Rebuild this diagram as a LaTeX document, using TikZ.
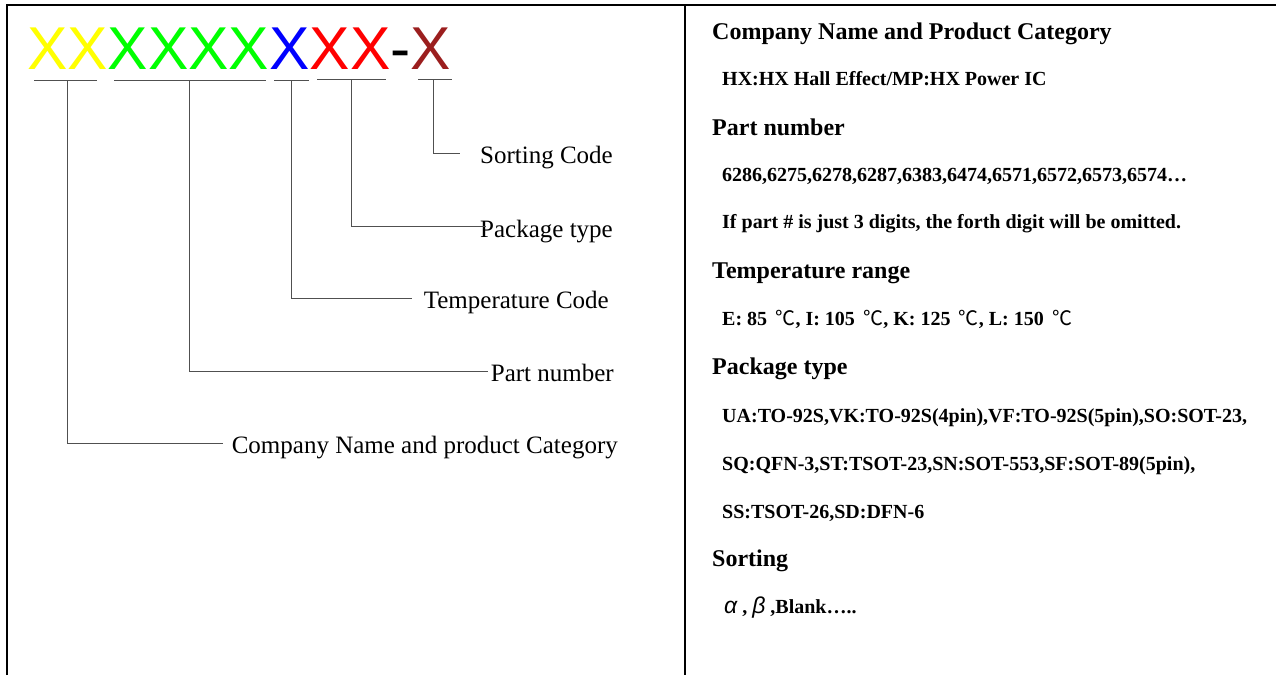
\documentclass[tikz,border=0pt]{standalone}
\usepackage{fontspec}
\setmainfont{Liberation Serif}
\newfontfamily\xsans{Liberation Sans}
\newfontfamily\cjkf{Noto Sans CJK SC}
\definecolor{xyel}{RGB}{255,255,0}
\definecolor{xgrn}{RGB}{0,255,0}
\definecolor{xblu}{RGB}{0,0,255}
\definecolor{xred}{RGB}{255,0,0}
\definecolor{xbrn}{RGB}{155,30,30}
\definecolor{leadc}{RGB}{80,80,80}
\begin{document}
\begin{tikzpicture}[x=1pt,y=-1pt,
  lab/.style={font=\fontsize{25}{30}\selectfont, inner sep=0pt, anchor=base east},
  head/.style={font=\fontsize{24}{28}\selectfont\bfseries, inner sep=0pt, anchor=base west},
  sub/.style={font=\fontsize{20}{24}\selectfont\bfseries, inner sep=0pt, anchor=base west},
  lead/.style={draw=leadc, line width=0.9pt},
  frame/.style={line width=2pt}]
\useasboundingbox (0,0) rectangle (1276,675);
% frame
\draw[frame] (7,675) -- (7,5) -- (1276,5);
\draw[line width=1.6pt] (685,5) -- (685,675);
% code string
\node[inner sep=0pt, anchor=base west, font=\xsans\fontsize{60.5}{70}\selectfont] (code) at (27,69)
  {\textcolor{xyel}{XX}\textcolor{xgrn}{XXXX}\textcolor{xblu}{X}\textcolor{xred}{XX}-\textcolor{xbrn}{X}};
% underlines
\draw[lead] (34,80) -- (97,80);
\draw[lead] (114,80) -- (266,80);
\draw[lead] (274,80) -- (309,80);
\draw[lead] (317,79) -- (386,79);
\draw[lead] (418,79) -- (452,79);
\coordinate (u1) at (67,80);
\coordinate (u2) at (189,80);
\coordinate (u3) at (291,80);
\coordinate (u4) at (351,79);
\coordinate (u5) at (433,79);
% labels
\node[lab] (l5) at (613,163) {Sorting Code};
\node[lab] (l4) at (613,237) {Package type};
\node[lab] (l3) at (609,308) {Temperature Code};
\node[lab] (l2) at (614,381) {Part number};
\node[lab] (l1) at (618,453) {Company Name and product Category};
\coordinate (e5) at (460,153);
\coordinate (e4) at (486,226);
\coordinate (e3) at (412,298);
\coordinate (e2) at (488,371);
\coordinate (e1) at (223,443);
\draw[lead] (u5) |- (e5);
\draw[lead] (u4) |- (e4);
\draw[lead] (u3) |- (e3);
\draw[lead] (u2) |- (e2);
\draw[lead] (u1) |- (e1);
% right panel
\node[head] (h1) at (712,39) {Company Name and Product Category};
\node[sub]  (s1) at (722,85) {HX:HX Hall Effect/MP:HX Power IC};
\node[head] (h2) at (712,135) {Part number};
\node[sub]  (s2) at (722,181) {6286,6275,6278,6287,6383,6474,6571,6572,6573,6574…};
\node[sub]  (s3) at (722,228) {If part \# is just 3 digits, the forth digit will be omitted.};
\node[head] (h3) at (712,278) {Temperature range};
\node[sub]  (s4) at (722,325) {E: 85 \,{\cjkf\mdseries ℃}, I: 105 \,{\cjkf\mdseries ℃}, K: 125 \,{\cjkf\mdseries ℃}, L: 150 \,{\cjkf\mdseries ℃}};
\node[head] (h4) at (712,374) {Package type};
\node[sub]  (s5) at (722,422) {UA:TO-92S,VK:TO-92S(4pin),VF:TO-92S(5pin),SO:SOT-23,};
\node[sub]  (s6) at (722,470) {SQ:QFN-3,ST:TSOT-23,SN:SOT-553,SF:SOT-89(5pin),};
\node[sub]  (s7) at (722,518) {SS:TSOT-26,SD:DFN-6};
\node[head] (h5) at (712,566) {Sorting};
\node[sub]  (s8) at (724,613) {{\xsans\mdseries\itshape\fontsize{23}{26}\selectfont α} , {\xsans\mdseries\itshape\fontsize{23}{26}\selectfont β} ,Blank…..};
\end{tikzpicture}
\end{document}
